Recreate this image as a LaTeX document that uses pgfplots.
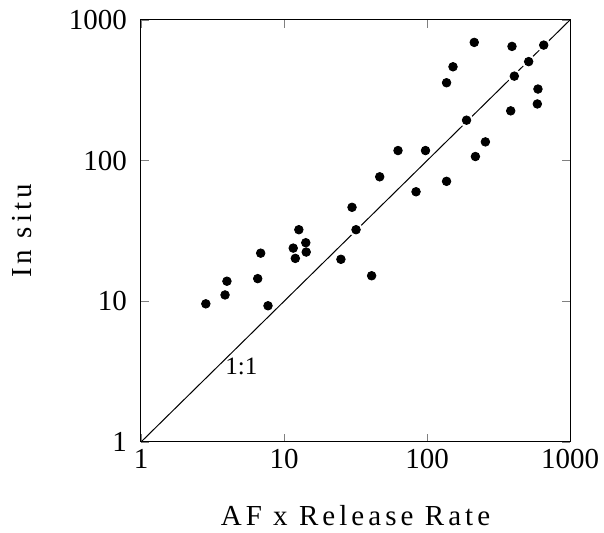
\documentclass[border=0pt]{standalone}
\usepackage{fontspec}
\setmainfont{Liberation Serif}
\newfontfamily\spacedfont[LetterSpace=14]{Liberation Serif}
\usepackage{pgfplots}
\usepackage{pgfplotstable}
\pgfplotsset{compat=1.18}

% AF x release rate vs in situ
\pgfplotstableread{
x      y
2.84   9.6
3.87   11.1
3.99   13.9
6.55   14.5
6.87   22.0
7.73   9.3
11.6   23.9
12.0   20.2
12.7   32.3
14.2   26.1
14.3   22.4
25.0   19.9
29.9   46.6
31.9   32.3
41.0   15.2
46.7   76.8
62.7   118
83.8   60.1
97.6   118
137    71.3
137    358
152    465
189    194
214    693
218    107
256    136
385    226
393    649
408    399
514    506
591    253
597    323
655    663
}\pointdata

\begin{document}
\begin{tikzpicture}
\begin{axis}[
    at={(0,0)}, anchor=south west,
    scale only axis,
    width=214.5pt, height=211pt,
    xmode=log, ymode=log,
    xmin=1, xmax=1000, ymin=1, ymax=1000,
    xtick={1,10,100,1000}, ytick={1,10,100,1000},
    xticklabels={1,10,100,1000}, yticklabels={1,10,100,1000},
    xminorticks=false, yminorticks=false,
    tick align=inside,
    major tick length=4pt,
    ticklabel style={font=\fontsize{14.5}{16}\selectfont},
    yticklabel style={xshift=-3.5pt},
    axis line style={line width=0.5pt},
    clip=false
]
\addplot[black, line width=0.5pt] coordinates {(1,1) (1000,1000)};
% white halo that breaks the 1:1 line under the dots
\addplot[white, only marks, mark=*, mark size=3.2pt,
    mark options={fill=white}] table[x=x, y=y] {\pointdata};
\addplot[black, only marks, mark=*, mark size=2.15pt,
    mark options={fill=black}] table[x=x, y=y] {\pointdata};
\node[font=\fontsize{12.5}{14}\selectfont] at (axis cs:5.04,3.44) {1:1};
\end{axis}
\node[anchor=base, font=\spacedfont\fontsize{14.5}{16}\selectfont]
    at (107.25pt,-42pt) {AF x Release Rate};
\node[anchor=base, rotate=90, font=\spacedfont\fontsize{14.5}{16}\selectfont]
    at (-54.7pt,105.5pt) {In situ};
\pgfresetboundingbox
\path[use as bounding box] (-70.5pt,-45.5pt) rectangle (231.5pt,221pt);
\end{tikzpicture}
\end{document}
